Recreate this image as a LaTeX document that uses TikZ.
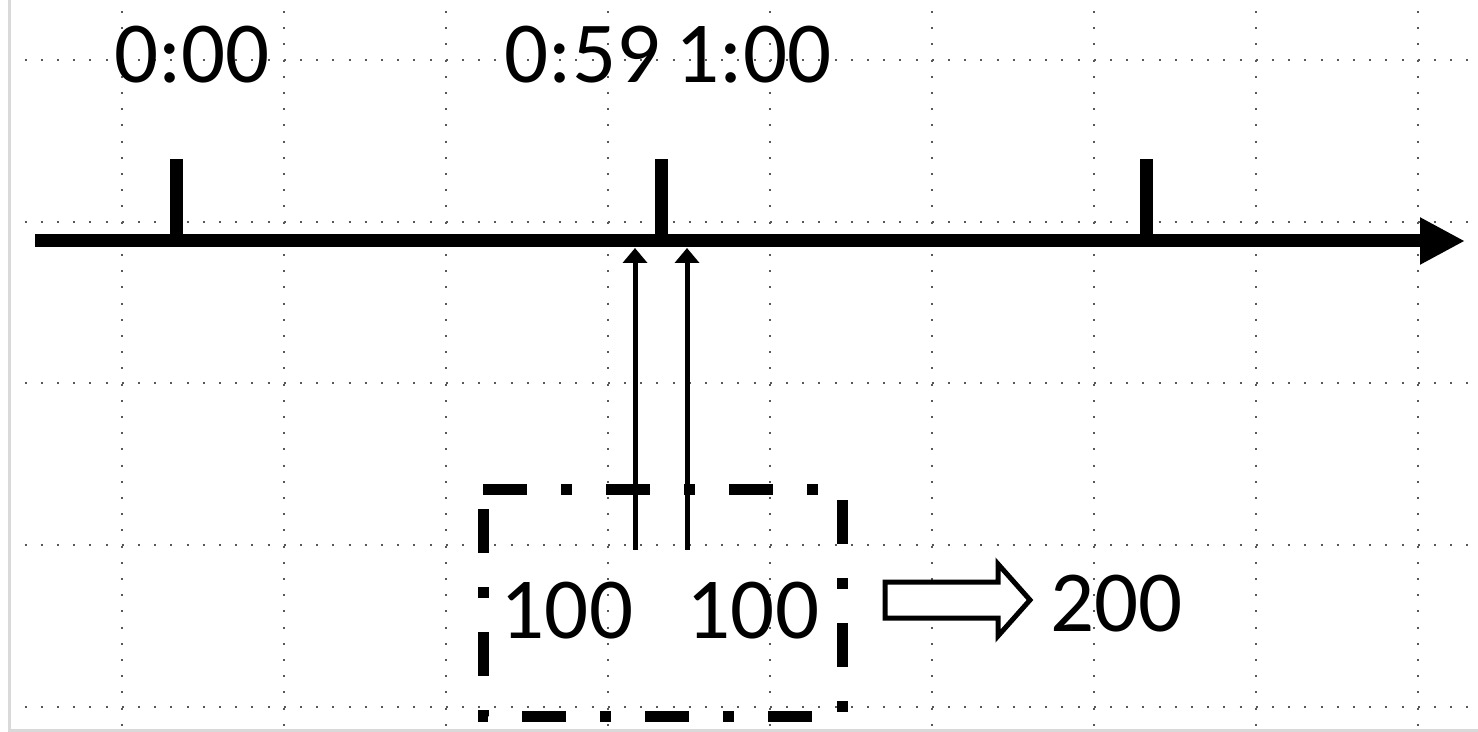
\documentclass[tikz,border=0pt]{standalone}
\usepackage{fontspec}
\setmainfont{Carlito}
\usetikzlibrary{arrows.meta}
\begin{document}
\begin{tikzpicture}[x=0.5pt,y=-0.5pt,
  gridline/.style={line width=1pt, draw=black!65, dash pattern=on 1pt off 7.1pt},
  lbl/.style={anchor=base, inner sep=0pt, font=\fontsize{43.5pt}{50pt}\selectfont},
  axis/.style={line width=6.5pt, -{Triangle[width=22pt,length=22.5pt]}},
  tickmark/.style={line width=6.5pt},
  thinarrow/.style={line width=2.5pt, -{Triangle[width=12pt,length=7.5pt]}},
  dashbox/.style={line width=5.5pt, line join=miter, dash pattern=on 22pt off 17pt on 5.5pt off 17pt},
  blockarrow/.style={line width=2.5pt, draw=black, fill=white, line join=miter},
  frame/.style={line width=1.5pt, draw=black!15}
]
\useasboundingbox (0,0) rectangle (1478,732);
\fill[white] (0,0) rectangle (1478,732);
% frame
\draw[frame] (9,0) -- (9,730.5) -- (1478,730.5);
% grid
\foreach \gy in {60,221.75,383.5,545.25,707}
  \draw[gridline] (24.5,\gy) -- (1478,\gy);
\foreach \i in {0,...,8}
  \draw[gridline] ({122+162*\i},11) -- ({122+162*\i},732);
% timeline
\coordinate (axL) at (35,241);
\coordinate (axR) at (1465,241);
\draw[axis] (axL) -- (axR);
% ticks
\coordinate (t1top) at (176,159); \coordinate (t1) at (176,241);
\coordinate (t2top) at (661,159); \coordinate (t2) at (661,241);
\coordinate (t3top) at (1146,159); \coordinate (t3) at (1146,241);
\draw[tickmark] (t1top) -- (t1);
\draw[tickmark] (t2top) -- (t2);
\draw[tickmark] (t3top) -- (t3);
% labels
\node[lbl] (l000) at (192,83) {0:00};
\node[lbl] (l059) at (582.5,83) {0:59};
\node[lbl] (l100) at (753.5,83) {1:00};
% thin arrows
\coordinate (a1s) at (635,550); \coordinate (a1e) at (635,248);
\coordinate (a2s) at (687,550); \coordinate (a2e) at (687,248);
\draw[thinarrow] (a1s) -- (a1e);
\draw[thinarrow] (a2s) -- (a2e);
% dashed box
\coordinate (bTL) at (483,490); \coordinate (bTR) at (842,490);
\coordinate (bBR) at (842,716); \coordinate (bBL) at (483,716);
\draw[dashbox] (bTL) -- (bTR) -- (bBR) -- (bBL) -- cycle;
% numbers
\node[lbl] (n1) at (567,638) {100};
\node[lbl] (n2) at (753,638) {100};
% block arrow
\draw[blockarrow] (885,582) -- (998,582) -- (998,564) -- (1030,600) -- (998,636) -- (998,618) -- (885,618) -- cycle;
\node[lbl] (n3) at (1116.5,631) {200};
\end{tikzpicture}
\end{document}
